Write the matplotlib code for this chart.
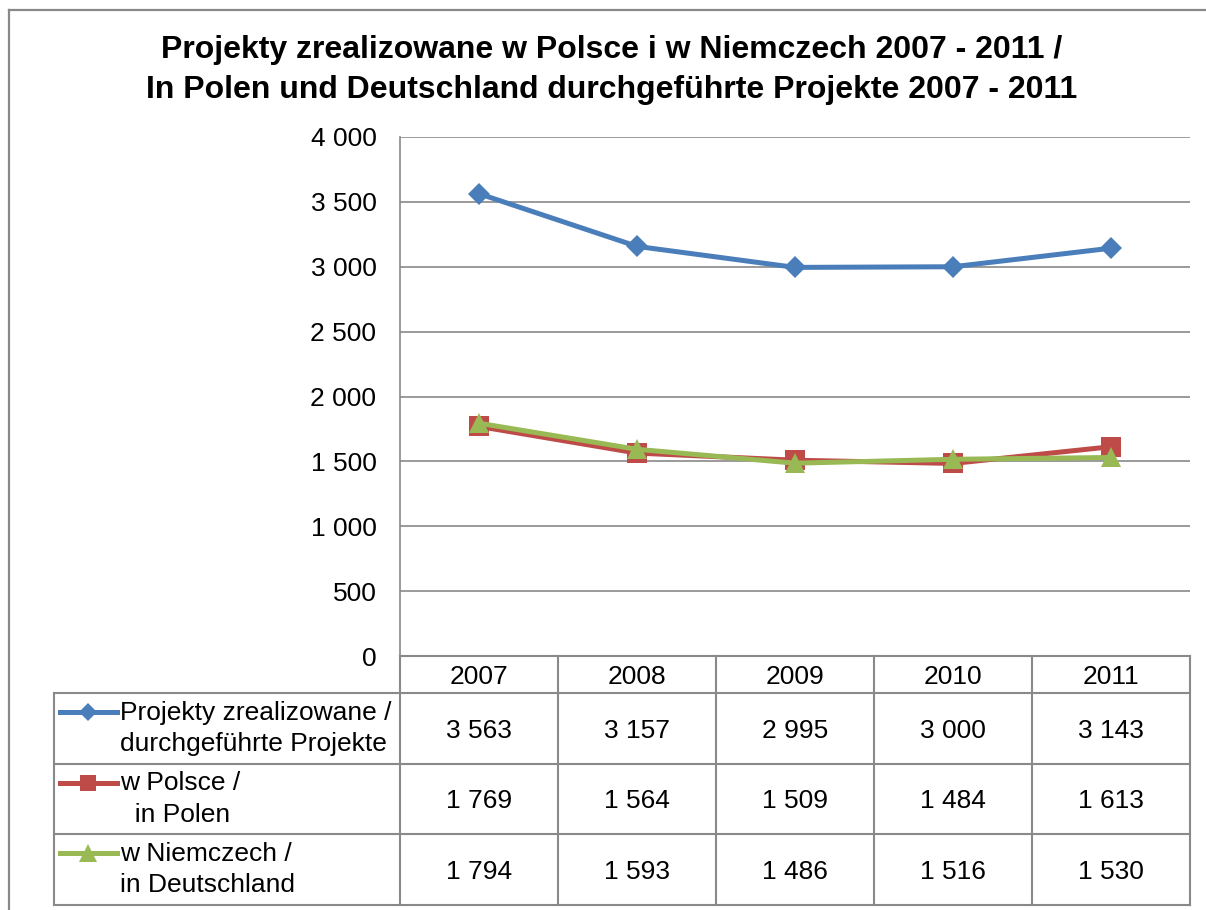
import matplotlib.pyplot as plt
import matplotlib.ticker as mticker
from matplotlib.lines import Line2D

# data
years = ['2007', '2008', '2009', '2010', '2011']
total = [3563, 3157, 2995, 3000, 3143]
in_poland = [1769, 1564, 1509, 1484, 1613]
in_germany = [1794, 1593, 1486, 1516, 1530]
series_names = ['Projekty zrealizowane /\ndurchgeführte Projekte',
                'w Polsce /\n  in Polen',
                'w Niemczech /\nin Deutschland']
title = ('Projekty zrealizowane w Polsce i w Niemczech 2007 - 2011 /\n'
         'In Polen und Deutschland durchgeführte Projekte 2007 - 2011')

W, H = 1206, 910
plt.rcParams['font.family'] = ['Liberation Sans', 'DejaVu Sans']
grey = '#898989'
colors = ['#4A7EBB', '#BE4B48', '#98B954']
markers = ['D', 's', '^']
msizes = [11.5, 14, 15]
fs = 19


def px(x0, y0, x1, y1):
    return [x0 / W, 1 - y1 / H, (x1 - x0) / W, (y1 - y0) / H]


def fmt(v):
    return f'{v:,.0f}'.replace(',', ' ')


fig = plt.figure(figsize=(W / 100, H / 100), dpi=100)

# outer chart frame (cropped at right/bottom)
fig.add_artist(Line2D([9 / W, 9 / W], [0, 1 - 10 / H], transform=fig.transFigure, color=grey, lw=1.6))
fig.add_artist(Line2D([9 / W, 1], [1 - 10 / H, 1 - 10 / H], transform=fig.transFigure, color=grey, lw=1.6))

fig.text(612 / W, 1 - 70 / H, title, ha='center', va='center', fontsize=23,
         fontweight='bold', linespacing=1.45)

# plot area
ax = fig.add_axes(px(400, 137, 1190, 656))
x = list(range(len(years)))
all_series = [total, in_poland, in_germany]
for vals, c, m, ms in zip(all_series, colors, markers, msizes):
    ax.plot(x, vals, color=c, lw=3.6, marker=m, ms=ms, mew=0, zorder=3, clip_on=False)
ax.set_xlim(-0.5, len(years) - 0.5)
ax.set_ylim(0, 4000)
ax.yaxis.set_major_locator(mticker.MultipleLocator(500))
ax.yaxis.set_major_formatter(mticker.FuncFormatter(lambda v, p: fmt(v)))
ax.grid(axis='y', color=grey, lw=1.2)
ax.set_xticks([])
ax.tick_params(axis='y', length=0, pad=17, labelsize=fs)
for s in ['top', 'right', 'bottom']:
    ax.spines[s].set_visible(False)
ax.spines['left'].set_color(grey)
ax.spines['left'].set_linewidth(1.2)

# data table under the plot
colw = (1190 - 400) / len(years)
left_edge = -0.5 - (400 - 54) / colw
hdr = 37 / 71
tab = fig.add_axes(px(54, 656, 1190, 905))
tab.set_xlim(left_edge, len(years) - 0.5)
tab.set_ylim(hdr + len(all_series), 0)
tab.axis('off')

lk = dict(color=grey, lw=1.5, clip_on=False)
# header row
tab.plot([-0.5, len(years) - 0.5], [0, 0], **lk)
for i in range(len(years) + 1):
    tab.plot([i - 0.5, i - 0.5], [0, hdr + len(all_series)], **lk)
for i, y in enumerate(years):
    tab.text(i, hdr / 2, y, ha='center', va='center_baseline', fontsize=fs)
# body rows
tab.plot([left_edge, left_edge], [hdr, hdr + len(all_series)], **lk)
for r in range(len(all_series) + 1):
    tab.plot([left_edge, len(years) - 0.5], [hdr + r, hdr + r], **lk)


def pxu(xp):
    return (xp - 479) / colw


for r, (vals, name) in enumerate(zip(all_series, series_names)):
    yc = hdr + r + 0.5
    for i, v in enumerate(vals):
        tab.text(i, yc, fmt(v), ha='center', va='center_baseline', fontsize=fs)
    tab.text(pxu(120), yc, name, ha='left', va='center', fontsize=fs, linespacing=1.38)
    ly = yc - 0.23
    tab.plot([pxu(60), pxu(117)], [ly, ly], color=colors[r], lw=3.6, clip_on=False)
    tab.plot([pxu(88)], [ly], color=colors[r], marker=markers[r], ms=msizes[r] - 2, mew=0,
             clip_on=False)

fig.savefig('out.png', dpi=100)
